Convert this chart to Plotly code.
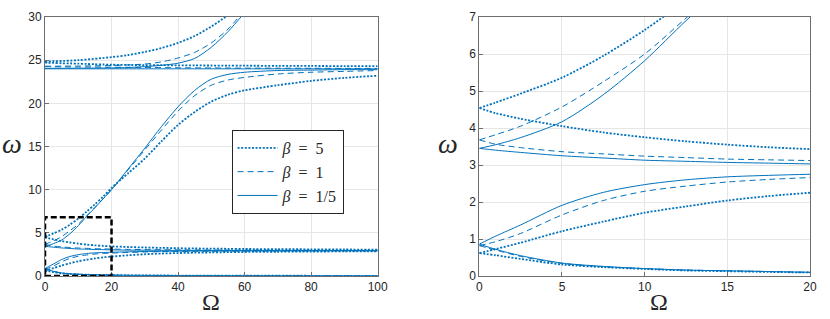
import plotly.graph_objects as go

# ---------------- data ----------------
OMEGA = [0, 1, 2.5, 5, 7.5, 10, 12.5, 15, 17.5, 20, 25, 30, 35, 40, 45, 50,
         55, 60, 70, 80, 90, 100]
OMEGA_HI = [0, 10, 20, 25, 30, 35, 40, 45, 50, 55, 60]

BETA_LABELS = ["<i>β</i>  =  5", "<i>β</i>  =  1", "<i>β</i>  =  1/5"]

# beta = 5 (dotted)
b5_br1 = [0.62, 0.56, 0.46, 0.31, 0.24, 0.19, 0.15, 0.13, 0.11, 0.095, 0.08, 0.07,
          0.06, 0.05, 0.045, 0.04, 0.037, 0.033, 0.03, 0.025, 0.022, 0.02]
b5_br2 = [0.62, 0.73, 0.90, 1.21, 1.47, 1.71, 1.88, 2.04, 2.16, 2.25, 2.40, 2.52,
          2.60, 2.66, 2.70, 2.73, 2.76, 2.78, 2.81, 2.83, 2.85, 2.86]
b5_br3 = [4.54, 4.40, 4.25, 4.05, 3.88, 3.75, 3.64, 3.55, 3.48, 3.43, 3.36, 3.30,
          3.26, 3.22, 3.19, 3.17, 3.15, 3.13, 3.11, 3.09, 3.07, 3.06]
b5_br4 = [4.54, 4.69, 4.93, 5.36, 5.95, 6.65, 7.45, 8.30, 9.20, 10.2, 11.9, 13.6,
          15.6, 17.5, 19.0, 20.2, 21.0, 21.5, 22.1, 22.6, 22.95, 23.2]
b5_br5 = [24.75, 24.70, 24.68, 24.64, 24.62, 24.60, 24.56, 24.53, 24.50, 24.47, 24.45,
          24.43, 24.42, 24.40, 24.39, 24.38, 24.37, 24.36, 24.34, 24.33, 24.31, 24.30]
b5_br6 = [24.85, 25.0, 25.35, 25.6, 25.95, 26.4, 27.0, 27.8, 28.9, 30.2, 31.5]

# beta = 1 (dashed)
b1_br1 = [0.82, 0.70, 0.53, 0.34, 0.25, 0.20, 0.16, 0.14, 0.12, 0.10, 0.08, 0.07,
          0.06, 0.05, 0.045, 0.04, 0.037, 0.033, 0.03, 0.025, 0.022, 0.02]
b1_br2 = [0.82, 0.93, 1.15, 1.65, 2.04, 2.29, 2.43, 2.54, 2.61, 2.66, 2.73, 2.78,
          2.82, 2.84, 2.86, 2.87, 2.88, 2.89, 2.90, 2.91, 2.915, 2.92]
b1_br3 = [3.68, 3.56, 3.47, 3.36, 3.30, 3.24, 3.20, 3.16, 3.14, 3.12, 3.08, 3.06,
          3.04, 3.03, 3.02, 3.01, 3.00, 3.00, 2.99, 2.98, 2.97, 2.97]
b1_br4 = [3.68, 3.82, 4.05, 4.57, 5.25, 6.00, 6.97, 7.95, 8.95, 10.0, 12.3, 14.6,
          16.9, 19.1, 20.9, 22.1, 22.7, 23.0, 23.4, 23.6, 23.7, 23.8]
b1_br5 = [24.25, 24.25, 24.24, 24.23, 24.22, 24.21, 24.20, 24.20, 24.19, 24.18, 24.17,
          24.16, 24.14, 24.12, 24.11, 24.10, 24.09, 24.08, 24.07, 24.06, 24.05, 24.05]
b1_br6 = [24.3, 24.32, 24.38, 24.45, 24.55, 24.8, 25.25, 25.9, 27.0, 28.6, 30.8]

# beta = 1/5 (solid)
b02_br1 = [0.86, 0.72, 0.55, 0.35, 0.26, 0.20, 0.16, 0.14, 0.12, 0.10, 0.08, 0.07,
           0.06, 0.05, 0.045, 0.04, 0.037, 0.033, 0.03, 0.025, 0.022, 0.02]
b02_br2 = [0.86, 1.08, 1.38, 1.91, 2.26, 2.47, 2.60, 2.68, 2.72, 2.75, 2.80, 2.84,
           2.86, 2.88, 2.89, 2.90, 2.905, 2.91, 2.92, 2.925, 2.93, 2.93]
b02_br3 = [3.45, 3.40, 3.34, 3.25, 3.19, 3.13, 3.10, 3.07, 3.05, 3.03, 3.00, 2.99,
           2.98, 2.97, 2.965, 2.96, 2.955, 2.95, 2.945, 2.94, 2.94, 2.94]
b02_br4 = [3.45, 3.55, 3.74, 4.17, 4.90, 5.82, 6.90, 7.90, 8.95, 10.0, 12.4, 14.8,
           17.3, 19.6, 21.5, 22.8, 23.35, 23.6, 23.8, 23.85, 23.9, 23.9]
b02_br5 = [24.0, 24.0, 24.0, 24.0, 24.0, 24.0, 24.0, 24.0, 24.0, 24.0, 24.0, 24.0,
           24.0, 24.0, 24.0, 24.0, 24.0, 24.0, 24.0, 24.0, 24.0, 24.0]
b02_br6 = [24.05, 24.07, 24.1, 24.15, 24.25, 24.4, 24.65, 25.2, 26.5, 28.3, 30.5]

# zoom window drawn on the left panel (Omega range, omega range)
ZOOM_BOX_OMEGA = [0, 20]
ZOOM_BOX_OMEGA_W = [0, 6.8]

LEFT_XTICKS = [0, 20, 40, 60, 80, 100]
LEFT_YTICKS = [0, 5, 10, 15, 20, 25, 30]
RIGHT_XTICKS = [0, 5, 10, 15, 20]
RIGHT_YTICKS = [0, 1, 2, 3, 4, 5, 6, 7]

# ---------------- figure ----------------
BLUE = "#0072BD"
styles = [
    dict(dash="2px,1.6px", width=1.8),   # beta = 5 dotted
    dict(dash="6px,4px", width=1.0),     # beta = 1 dashed
    dict(dash="solid", width=1.0),       # beta = 1/5 solid
]
groups = [
    [b5_br1, b5_br2, b5_br3, b5_br4, b5_br5, b5_br6],
    [b1_br1, b1_br2, b1_br3, b1_br4, b1_br5, b1_br6],
    [b02_br1, b02_br2, b02_br3, b02_br4, b02_br5, b02_br6],
]

fig = go.Figure()
for panel, (xa, ya) in enumerate([("x", "y"), ("x2", "y2")]):
    for gi, branches in enumerate(groups):
        for bi, vals in enumerate(branches):
            xs = OMEGA_HI if bi == 5 else OMEGA
            fig.add_trace(go.Scatter(
                x=xs, y=vals, mode="lines", xaxis=xa, yaxis=ya,
                line=dict(color=BLUE, shape="spline", smoothing=0.8, **styles[gi]),
                name=BETA_LABELS[gi],
                showlegend=(panel == 0 and bi == 0),
                hoverinfo="skip",
            ))

fig.add_shape(type="rect", xref="x", yref="y",
              x0=ZOOM_BOX_OMEGA[0], x1=ZOOM_BOX_OMEGA[1],
              y0=ZOOM_BOX_OMEGA_W[0], y1=ZOOM_BOX_OMEGA_W[1],
              line=dict(color="black", width=2.5, dash="6px,3px"), layer="above")

axis_common = dict(
    showline=True, mirror=True, linecolor="#6e6e6e", linewidth=1,
    ticks="inside", ticklen=4, tickcolor="#6e6e6e",
    showgrid=True, gridcolor="#e6e6e6", gridwidth=1, zeroline=False,
    tickfont=dict(family="Liberation Sans", size=12, color="#262626"),
)

L, R, T, B = 45, 10, 10, 43
W, H = 830, 319
pw = W - L - R
ph = H - T - B
def px2x(p):
    return (p - L) / pw
def py2y(p):
    return 1 - (p - T) / ph

fig.update_layout(
    width=W, height=H, margin=dict(l=L, r=R, t=T, b=B),
    paper_bgcolor="white", plot_bgcolor="white",
    xaxis=dict(domain=[0, px2x(382)], range=[0, 100], tickvals=LEFT_XTICKS, **axis_common),
    yaxis=dict(domain=[0, 1], range=[0, 30], tickvals=LEFT_YTICKS, **axis_common),
    xaxis2=dict(domain=[px2x(485), 1], range=[0, 20], tickvals=RIGHT_XTICKS, anchor="y2", **axis_common),
    yaxis2=dict(domain=[0, 1], range=[0, 7], tickvals=RIGHT_YTICKS, anchor="x2", **axis_common),
    legend=dict(x=px2x(234), y=py2y(126), xanchor="left", yanchor="top",
                bgcolor="white", bordercolor="#262626", borderwidth=1,
                font=dict(family="Liberation Serif", size=16, color="#262626"),
                itemwidth=40, tracegroupgap=0),
    showlegend=True,
)

ann = dict(showarrow=False, xref="paper", yref="paper", xanchor="center", yanchor="middle")
for xp in (213, 667):
    fig.add_annotation(x=px2x(xp), y=py2y(303), text="Ω",
                       font=dict(family="Liberation Serif", size=24, color="#262626"), **ann)
for xp in (12, 453):
    fig.add_annotation(x=px2x(xp), y=py2y(140), text="<i>ω</i>",
                       font=dict(family="Liberation Serif", size=28, color="#262626"), **ann)

fig.write_html("out.html", config={"displayModeBar": False},
               post_script="document.body.style.margin='0';document.body.style.overflow='hidden';")
